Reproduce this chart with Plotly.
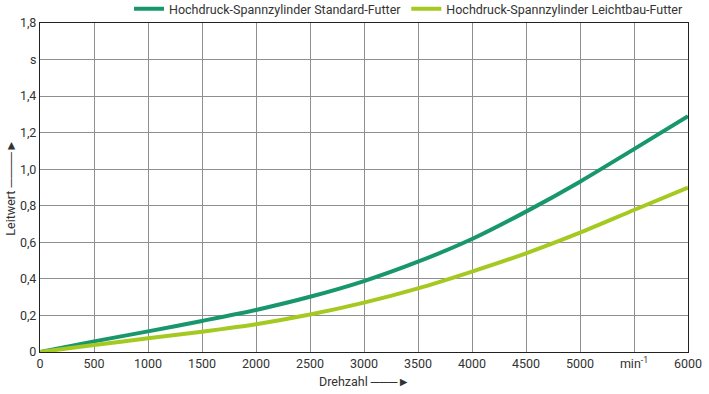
import plotly.graph_objects as go

drehzahl = [0, 500, 1000, 1500, 2000, 2500, 3000, 3500, 4000, 4500, 5000, 5500, 6000]
standard = [0, 0.058, 0.113, 0.170, 0.230, 0.302, 0.388, 0.494, 0.618, 0.768, 0.932, 1.11, 1.29]
leichtbau = [0, 0.038, 0.075, 0.111, 0.152, 0.205, 0.27, 0.348, 0.44, 0.54, 0.653, 0.777, 0.899]

series_names = ["Hochdruck-Spannzylinder Standard-Futter", "Hochdruck-Spannzylinder Leichtbau-Futter"]
series_colors = ["#17976b", "#a6c922"]

x_tickvals = [0, 500, 1000, 1500, 2000, 2500, 3000, 3500, 4000, 4500, 5000, 5500, 6000]
x_ticktext = ["0", "500", "1000", "1500", "2000", "2500", "3000", "3500", "4000", "4500", "5000", "min<sup>-1</sup>", "6000"]
y_tickvals = [0, 0.2, 0.4, 0.6, 0.8, 1.0, 1.2, 1.4, 1.6, 1.8]
y_ticktext = ["0", "0,2", "0,4", "0,6", "0,8", "1,0", "1,2", "1,4", "s", "1,8"]

FONT = "Roboto, sans-serif"
TXT = "#333333"

fig = go.Figure()
for name, vals, col in zip(series_names, [standard, leichtbau], series_colors):
    fig.add_trace(go.Scatter(x=drehzahl, y=vals, mode="lines", name=name,
                             line=dict(color=col, width=4, shape="spline", smoothing=0.8)))

fig.update_layout(
    width=709, height=394,
    margin=dict(l=40, r=21, t=23, b=42, autoexpand=False),
    paper_bgcolor="white", plot_bgcolor="white",
    font=dict(family=FONT, size=12, color=TXT),
    showlegend=True,
    legend=dict(orientation="h", x=1.0, xanchor="right", y=1.042, yanchor="middle",
                font=dict(family=FONT, size=12.5, color=TXT),
                bgcolor="rgba(0,0,0,0)", itemwidth=30, traceorder="normal"),
    xaxis=dict(range=[0, 6000], tickvals=x_tickvals, ticktext=x_ticktext,
               showgrid=True, gridcolor="#8f8f8f", gridwidth=1,
               showline=True, linecolor="#222222", linewidth=1.2, mirror=True,
               ticks="", zeroline=False, automargin=False,
               tickfont=dict(family=FONT, size=12.5, color=TXT)),
    yaxis=dict(range=[0, 1.8], tickvals=y_tickvals, ticktext=y_ticktext,
               showgrid=True, gridcolor="#8f8f8f", gridwidth=1,
               showline=True, linecolor="#222222", linewidth=1.2, mirror=True,
               ticks="", zeroline=False, automargin=False,
               tickfont=dict(family=FONT, size=12.5, color=TXT)),
    annotations=[
        dict(text="Drehzahl ───►", xref="paper", yref="paper", x=0.5, y=-0.091,
             xanchor="center", yanchor="middle", showarrow=False,
             font=dict(family=FONT, size=12.5, color=TXT)),
        dict(text="Leitwert ────►", xref="paper", yref="paper", x=-0.046, y=0.5,
             xanchor="center", yanchor="middle", showarrow=False, textangle=-90,
             font=dict(family=FONT, size=12.5, color=TXT)),
    ],
)

fig.write_html("out.html", config={"displayModeBar": False},
               post_script="document.body.style.margin='0';")
